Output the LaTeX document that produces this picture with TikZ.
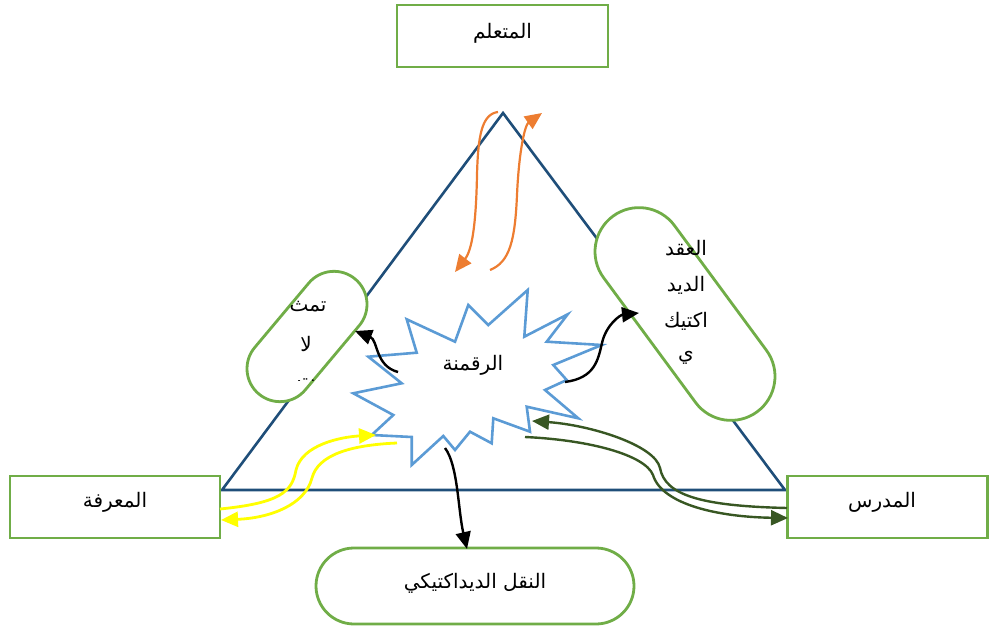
\documentclass[tikz,border=0pt]{standalone}
\usepackage{fontspec}
\newfontfamily\arabicfont[Script=Arabic]{DejaVu Sans}
\TeXXeTstate=1
\usetikzlibrary{arrows.meta}
\definecolor{gbox}{HTML}{70AD47}
\definecolor{tri}{HTML}{1F4E79}
\definecolor{burstc}{HTML}{5B9BD5}
\definecolor{orng}{HTML}{ED7D31}
\definecolor{dgreen}{HTML}{385723}
\definecolor{yel}{HTML}{FFFF00}
\begin{document}
\begin{tikzpicture}[x=1pt,y=-1pt,
  ar/.style={font=\arabicfont\fontsize{20}{24}\selectfont, inner sep=0pt},
  gbox/.style={draw=gbox, line width=2.8pt, fill=white, inner sep=0pt},
  pill/.style={gbox, rounded corners=#1},
  arr/.style={line width=2.4pt, -{Triangle[length=17pt,width=15pt]}},
  orarr/.style={arr, draw=orng, line width=2.2pt},
  yarr/.style={arr, draw=yel, line width=2.8pt},
  garr/.style={arr, draw=dgreen},
  karr/.style={arr, draw=black}
]
\useasboundingbox (0,0) rectangle (990,628);
% triangle
\coordinate (apex) at (503,113);
\coordinate (bl) at (222,490);
\coordinate (br) at (785,490);
\draw[tri, line width=2.6pt, line join=miter] (apex) -- (bl) -- (br) -- cycle;

% boxes
\node[gbox, minimum width=211pt, minimum height=62pt] (top) at (502.5,36) {};
\node[ar] (toptxt) at (502.5,33) {\beginR المتعلم\endR};
\node[gbox, minimum width=210pt, minimum height=62pt] (left) at (115,507) {};
\node[ar] (lefttxt) at (115,502) {\beginR المعرفة\endR};
\node[gbox, minimum width=200pt, minimum height=62pt] (right) at (887.5,507) {};
\node[ar] (righttxt) at (882,502) {\beginR المدرس\endR};

% bottom pill
\node[pill=38pt, minimum width=318pt, minimum height=76pt] (bot) at (475,586) {};
\node[ar] (bottxt) at (475,583) {\beginR النقل الديداكتيكي\endR};

% right rotated pill
\node[pill=44pt, minimum width=243pt, minimum height=88pt, rotate=-53.6] (rpill) at (685,314) {};
\node[ar] (r1) at (686,248) {\beginR العقد\endR};
\node[ar] (r2) at (686,285) {\beginR الديد\endR};
\node[ar] (r3) at (686,321) {\beginR اكتيك\endR};
\node[ar] (r4) at (686,358) {\beginR ي\endR};

% left rotated pill
\node[pill=33pt, minimum width=150pt, minimum height=66pt, rotate=50] (lpill) at (307,336.5) {};
\node[ar] (l1) at (308,307) {\beginR تمث\endR};
\node[ar] (l2) at (306,344) {\beginR لا\endR};
\begin{scope}
  \clip (280,360) rectangle (335,380);
  \node[ar] (l3) at (306,383) {\beginR ت\endR};
\end{scope}

% starburst
\draw[burstc, line width=2.6pt, fill=white, line join=miter]
 (406.7,319.3) -- (455,341.7) -- (468.3,305) -- (488.3,325) -- (527.7,290)
 -- (524.3,336.7) -- (567.7,314.3) -- (546.7,341.7) -- (601.7,345)
 -- (553.3,365) -- (566.7,380) -- (545,390) -- (578.3,418.3)
 -- (526.7,406.7) -- (530,431.7) -- (493.3,418.3) -- (491.7,443.3)
 -- (470,431.7) -- (455,450) -- (443.3,436) -- (411.7,465)
 -- (411.7,437) -- (371.7,435) -- (393.3,415) -- (353.3,393.3)
 -- (401.7,383.3) -- (368.3,356.7) -- (416.7,352.7) -- cycle;
\node[ar] (burst) at (473,365) {\beginR الرقمنة\endR};

% connector end points
\coordinate (o1s) at (498,112);
\coordinate (o1e) at (455,272);
\coordinate (o2s) at (490,270);
\coordinate (o2e) at (542,113);
\coordinate (y1s) at (220,509);
\coordinate (y1e) at (376,435);
\coordinate (y2s) at (397,443);
\coordinate (y2e) at (221,520);
\coordinate (g1s) at (787,508);
\coordinate (g1e) at (532,421);
\coordinate (g2s) at (525,437);
\coordinate (g2e) at (788,518);
\coordinate (k1s) at (398,372);
\coordinate (k1e) at (355,331);
\coordinate (k2s) at (565,382);
\coordinate (k2e) at (639,313);
\coordinate (k3s) at (445,448);
\coordinate (k3e) at (467,549);

% orange
\draw[orarr] (o1s) .. controls (482,114) and (478,135) .. (477,175)
  .. controls (476,225) and (472,250) .. (o1e);
\draw[orarr] (o2s) .. controls (510,262) and (515,240) .. (517,195)
  .. controls (519,150) and (525,125) .. (o2e);
% yellow
\draw[yarr] (y1s) .. controls (280,503) and (292,492) .. (296,470)
  .. controls (302,445) and (340,437) .. (y1e);
\draw[yarr] (y2s) .. controls (350,445) and (318,455) .. (312,478)
  .. controls (305,505) and (270,518) .. (y2e);
% green
\draw[garr] (g1s) .. controls (700,506) and (665,495) .. (660,468)
  .. controls (655,445) and (590,425) .. (g1e);
\draw[garr] (g2s) .. controls (590,440) and (645,455) .. (653,475)
  .. controls (662,505) and (720,517) .. (g2e);
% black
\draw[karr] (k1s) .. controls (375,366) and (378,340) .. (k1e);
\draw[karr] (k2s) .. controls (595,378) and (598,360) .. (602,343)
  .. controls (606,325) and (620,315) .. (k2e);
\draw[karr] (k3s) .. controls (458,465) and (458,510) .. (k3e);
\end{tikzpicture}
\end{document}
